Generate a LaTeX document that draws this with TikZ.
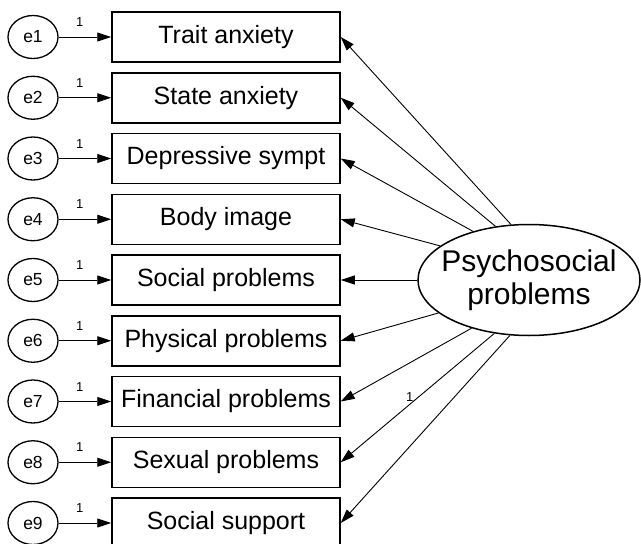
\documentclass[tikz,border=0pt]{standalone}
\usepackage{fontspec}
\setmainfont{Liberation Sans}
\usetikzlibrary{arrows.meta,shapes.geometric}

\begin{document}
\begin{tikzpicture}[x=1pt, y=-1pt,
    obsbox/.style={draw, line width=1.5pt, minimum width=228pt, minimum height=50pt, inner sep=0pt, font=\fontsize{25}{30}\selectfont},
    errnode/.style={draw, ellipse, line width=1.3pt, minimum width=50pt, minimum height=43pt, inner sep=0pt, font=\fontsize{17.5}{20}\selectfont},
    loading/.style={-{Triangle[length=14pt,width=9pt]}, line width=0.9pt},
    wlabel/.style={font=\fontsize{13}{14}\selectfont, inner sep=2pt}]
    \useasboundingbox (0,0) rectangle (641,544);

    % Observed indicators
    \node[obsbox] (trait) at (226,37) {Trait anxiety};
    \node[obsbox] (state) at (226,97.75) {State anxiety};
    \node[obsbox] (depr) at (226,158.5) {Depressive sympt};
    \node[obsbox] (body) at (226,219.25) {Body image};
    \node[obsbox] (socprob) at (226,280) {Social problems};
    \node[obsbox] (phys) at (226,340.75) {Physical problems};
    \node[obsbox] (fin) at (226,401.5) {Financial problems};
    \node[obsbox] (sex) at (226,462.25) {Sexual problems};
    \node[obsbox] (support) at (226,523) {Social support};

    % Error terms
    \node[errnode] (e1) at (33,37) {e1};
    \node[errnode] (e2) at (33,97.75) {e2};
    \node[errnode] (e3) at (33,158.5) {e3};
    \node[errnode] (e4) at (33,219.25) {e4};
    \node[errnode] (e5) at (33,280) {e5};
    \node[errnode] (e6) at (33,340.75) {e6};
    \node[errnode] (e7) at (33,401.5) {e7};
    \node[errnode] (e8) at (33,462.25) {e8};
    \node[errnode] (e9) at (33,523) {e9};

    \draw[loading] (e1) -- (trait) node[wlabel, pos=0.4, above=8pt] {1};
    \draw[loading] (e2) -- (state) node[wlabel, pos=0.4, above=8pt] {1};
    \draw[loading] (e3) -- (depr) node[wlabel, pos=0.4, above=8pt] {1};
    \draw[loading] (e4) -- (body) node[wlabel, pos=0.4, above=8pt] {1};
    \draw[loading] (e5) -- (socprob) node[wlabel, pos=0.4, above=8pt] {1};
    \draw[loading] (e6) -- (phys) node[wlabel, pos=0.4, above=8pt] {1};
    \draw[loading] (e7) -- (fin) node[wlabel, pos=0.4, above=8pt] {1};
    \draw[loading] (e8) -- (sex) node[wlabel, pos=0.4, above=8pt] {1};
    \draw[loading] (e9) -- (support) node[wlabel, pos=0.4, above=8pt] {1};

    % Latent factor
    \node[draw, ellipse, line width=1.5pt, minimum width=222pt, minimum height=111pt, inner xsep=-10pt, inner ysep=0pt, align=center, font=\fontsize{30}{33}\selectfont] (psy) at (529,280) {Psychosocial\\problems};

    \draw[loading] (psy.108.9) -- (trait.east);
    \draw[loading] (psy.122.2) -- (state.east);
    \draw[loading] (psy.139.7) -- (depr.east);
    \draw[loading] (psy.159.9) -- (body.east);
    \draw[loading] (psy.180) -- (socprob.east);
    \draw[loading] (psy.200.1) -- (phys.east);
    \draw[loading] (psy.220.3) -- (fin.east);
    \draw[loading] (psy.237.8) -- (sex.east) node[wlabel, pos=0.55, above] {1};
    \draw[loading] (psy.251.1) -- (support.east);
\end{tikzpicture}
\end{document}
